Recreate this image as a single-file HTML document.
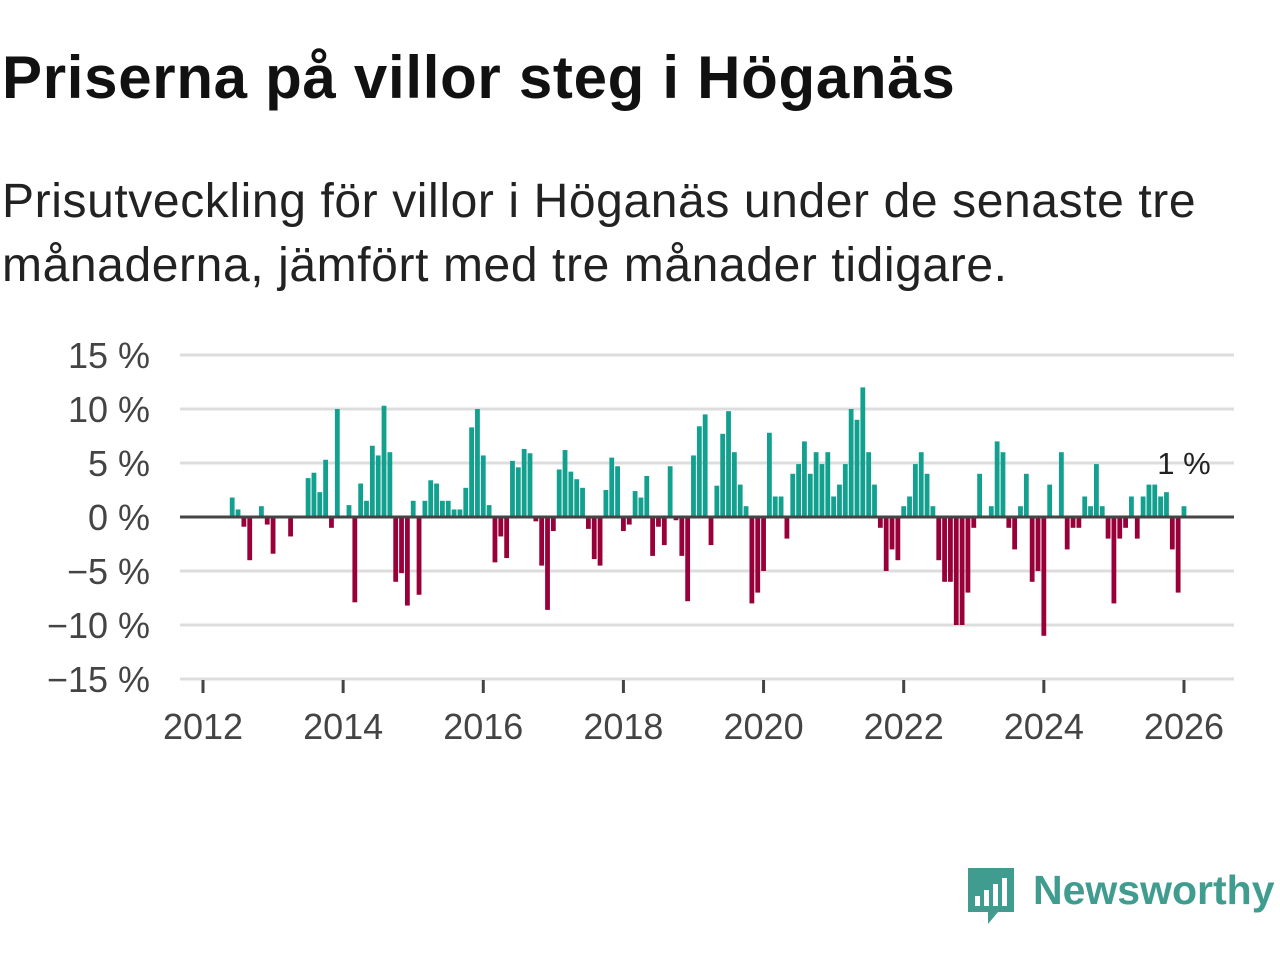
<!DOCTYPE html>
<html><head><meta charset="utf-8">
<style>
body{margin:0;background:#fff;width:1280px;height:960px;overflow:hidden;font-family:"Liberation Sans","DejaVu Sans",sans-serif}
#title{position:absolute;left:2px;top:43px;font-size:60px;font-weight:bold;color:#111;margin:0;letter-spacing:0.7px;white-space:nowrap}
#sub{position:absolute;left:2px;top:170px;font-size:48px;color:#222;line-height:64px;margin:0;width:1278px;letter-spacing:0.6px}
svg{position:absolute;left:0;top:0}
</style></head><body>
<h1 id="title">Priserna på villor steg i Höganäs</h1>
<p id="sub">Prisutveckling för villor i Höganäs under de senaste tre månaderna, jämfört med tre månader tidigare.</p>
<svg id="chart" width="1280" height="960"></svg>
<script>
const values=[null,null,null,null,null,1.8,0.7,-0.9,-4.0,null,1.0,-0.7,-3.4,null,null,-1.8,null,null,3.6,4.1,2.3,5.3,-1.0,10.0,null,1.1,-7.9,3.1,1.5,6.6,5.7,10.3,6.0,-6.0,-5.2,-8.2,1.5,-7.2,1.5,3.4,3.1,1.5,1.5,0.7,0.7,2.7,8.3,10.0,5.7,1.1,-4.2,-1.8,-3.8,5.2,4.6,6.3,5.9,-0.4,-4.5,-8.6,-1.3,4.4,6.2,4.2,3.5,2.7,-1.1,-3.9,-4.5,2.5,5.5,4.7,-1.3,-0.7,2.4,1.8,3.8,-3.6,-0.9,-2.6,4.7,-0.3,-3.6,-7.8,5.7,8.4,9.5,-2.6,2.9,7.7,9.8,6.0,3.0,1.0,-8.0,-7.0,-5.0,7.8,1.9,1.9,-2.0,4.0,4.9,7.0,4.0,6.0,4.9,6.0,1.9,3.0,4.9,10.0,9.0,12.0,6.0,3.0,-1.0,-5.0,-3.0,-4.0,1.0,1.9,4.9,6.0,4.0,1.0,-4.0,-6,-6,-10,-10,-7,-1,4,null,1,7,6,-1,-3,1,4,-6,-5,-11,3,null,6,-3,-1,-1,1.9,1,4.9,1,-2,-8,-2,-1,1.9,-2,1.9,3,3,1.9,2.3,-3,-7,1.0];
const startYear=2012;
const yTicks=[15,10,5,0,-5,-10,-15];
const xTicks=[2012,2014,2016,2018,2020,2022,2024,2026];
const lastLabel="1 %";
const NS="http://www.w3.org/2000/svg";
const svg=document.getElementById('chart');
const x=t=>203+(t-2012)*70.07;
const y=v=>517-v*10.8;
function el(tag,attrs){const e=document.createElementNS(NS,tag);for(const k in attrs)e.setAttribute(k,attrs[k]);svg.appendChild(e);return e;}
yTicks.forEach(v=>{
  if(v!==0){const g=el('line',{x1:180,x2:1234,y1:y(v),y2:y(v),stroke:'#ddd','stroke-width':3});
  
  }
  const t=el('text',{x:150,y:y(v)+13,'text-anchor':'end','font-size':36,fill:'#444'});
  t.textContent=(v<0?'−'+(-v):v)+' %';
  
  
});
values.forEach((v,i)=>{
  if(v===null)return;
  const cx=x(startYear+i/12);
  const r=el('rect',{x:cx-2.4,width:4.8,y:v>=0?y(v):y(0),height:Math.abs(y(v)-y(0)),fill:v>=0?'#12a08f':'#99003a'});
  
  
});
const z=el('line',{x1:180,x2:1234,y1:y(0),y2:y(0),stroke:'#444','stroke-width':3});


xTicks.forEach(yr=>{
  const tk=el('line',{x1:x(yr),x2:x(yr),y1:680,y2:693,stroke:'#444','stroke-width':3});
  
  
  const t=el('text',{x:x(yr),y:739,'text-anchor':'middle','font-size':36,fill:'#444'});
  t.textContent=yr;
  
  
});
const lastV=values[values.length-1];
const ann=el('text',{x:x(startYear+(values.length-1)/12),y:y(lastV)-32,'text-anchor':'middle','font-size':31,fill:'#222'});
ann.textContent=lastLabel;


</script>
<svg width="1280" height="960" style="pointer-events:none">
<path d="M968 868 h46 v44 h-16 l-10 12 v-12 h-20 z" fill="#3f9c8e"/>
<rect x="975" y="896" width="5" height="10" fill="#fff"/><rect x="984" y="890" width="5" height="16" fill="#fff"/><rect x="993" y="884" width="5" height="22" fill="#fff"/><rect x="1002" y="878" width="5" height="28" fill="#fff"/>
<text x="1033" y="904" font-size="41" font-weight="bold" fill="#3f9c8e">Newsworthy</text>
</svg>
</body></html>
